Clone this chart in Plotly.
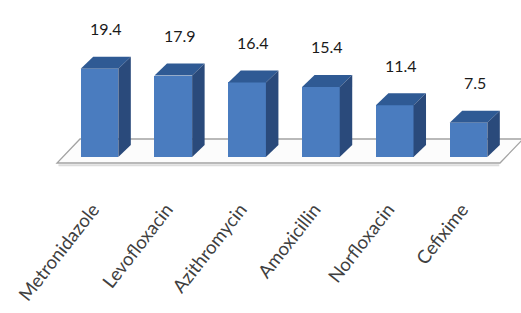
import plotly.graph_objects as go

categories = ["Metronidazole", "Levofloxacin", "Azithromycin", "Amoxicillin", "Norfloxacin", "Cefixime"]
values = [19.4, 17.9, 16.4, 15.4, 11.4, 7.5]
value_labels = ["19.4", "17.9", "16.4", "15.4", "11.4", "7.5"]

# layout mapping (pixels)
W, H = 521, 313
X0PX, XSTEP = 99.5, 73.8
Y0PX, YSC = 157.0, 4.55
xr = [(0 - X0PX) / XSTEP, (W - X0PX) / XSTEP]
yr = [(Y0PX - H) / YSC, Y0PX / YSC]

BW = 0.51                 # bar width (category units)
DDX = 12.5 / XSTEP        # depth offset x
DDY = 12.0 / YSC          # depth offset y
FRONT = "#4a7cbf"
TOP = "#2f5a94"
SIDE = "#2a4a7b"

pos = list(range(len(categories)))
fig = go.Figure()

fig.add_trace(go.Bar(x=pos, y=values, width=BW, marker=dict(color=FRONT, line=dict(width=0)),
                     hoverinfo="skip", showlegend=False))

for i, v in zip(pos, values):
    xl, xrr = i - BW / 2, i + BW / 2
    fig.add_trace(go.Scatter(x=[xl, xrr, xrr + DDX, xl + DDX, xl],
                             y=[v, v, v + DDY, v + DDY, v],
                             fill="toself", fillcolor=TOP, line=dict(width=0),
                             mode="lines", hoverinfo="skip", showlegend=False))
    fig.add_trace(go.Scatter(x=[xrr, xrr + DDX, xrr + DDX, xrr, xrr],
                             y=[0, DDY, v + DDY, v, 0],
                             fill="toself", fillcolor=SIDE, line=dict(width=0),
                             mode="lines", hoverinfo="skip", showlegend=False))
    fig.add_annotation(x=i + DDX / 2, y=v, yshift=40, text=value_labels[i], showarrow=False,
                       xanchor="center", yanchor="middle",
                       font=dict(family="Lato, Liberation Sans", size=16, color="#1a1a1a"))

# floor parallelogram
n = len(categories)
fxl, fxr = -0.576, (n - 1) + 0.427
fdx = 23.0 / XSTEP
fyf, fyb = -6.0 / YSC, 18.0 / YSC
floor_path = (f"M {fxl},{fyf} L {fxr},{fyf} L {fxr + fdx},{fyb} L {fxl + fdx},{fyb} Z")
fig.add_shape(type="path", path=floor_path, xref="x", yref="y", layer="below",
              fillcolor="#fcfcfc", line=dict(color="#a3a3a3", width=1.3))
fig.add_shape(type="line", x0=fxl + 0.02, x1=fxr - 0.01, y0=fyf - 2.2 / YSC, y1=fyf - 2.2 / YSC,
              xref="x", yref="y", layer="below", line=dict(color="#dcdcdc", width=2))

fig.update_layout(
    width=W, height=H, margin=dict(l=0, r=0, t=0, b=0),
    paper_bgcolor="white", plot_bgcolor="white", template="none",
    showlegend=False, bargap=0,
    xaxis=dict(range=xr, showgrid=False, zeroline=False, showline=False,
               tickmode="array", tickvals=[p - 0.09 for p in pos], ticktext=categories,
               tickangle=-52, ticks="", anchor="free", position=1 - 194 / H,
               tickfont=dict(family="Lato, Liberation Sans", size=18.5, color="#404040"),
               automargin=False, fixedrange=True),
    yaxis=dict(range=yr, showgrid=False, zeroline=False, showline=False, showticklabels=False,
               ticks="", automargin=False, fixedrange=True),
)

fig.write_html("out.html", config={"displayModeBar": False},
               post_script="document.body.style.margin='0';document.body.style.overflow='hidden';")
